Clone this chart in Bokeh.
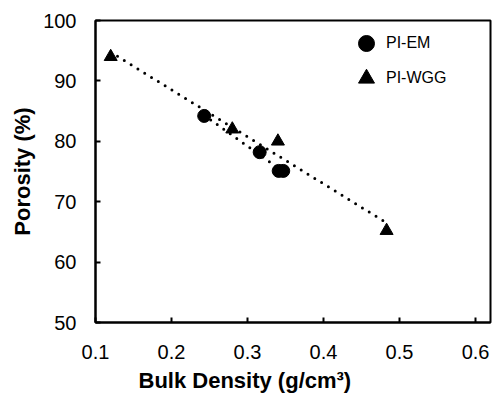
import numpy as np
from bokeh.plotting import figure
from bokeh.models import (FixedTicker, Legend, LegendItem, Title, Range1d, CustomJSTickFormatter)
from bokeh.embed import file_html
from bokeh.resources import INLINE

# ---- data ----
em_density = [0.243, 0.316, 0.341, 0.347]
em_porosity = [84.2, 78.2, 75.1, 75.1]
wgg_density = [0.120, 0.280, 0.340, 0.483]
wgg_porosity = [94.0, 82.0, 80.0, 65.2]
x_ticks = [0.1, 0.2, 0.3, 0.4, 0.5, 0.6]
y_ticks = [50, 60, 70, 80, 90, 100]
x_label = "Bulk Density (g/cm\u00b3)"
y_label = "Porosity (%)"
series_names = ["PI-EM", "PI-WGG"]

FONT = "Liberation Sans"

p = figure(width=492, height=398, output_backend="svg", toolbar_location=None,
           x_range=Range1d(0.1, 0.6197), y_range=Range1d(50, 100),
           min_border_left=95, min_border_top=20, min_border_right=2,
           min_border_bottom=76)
p.grid.visible = False
p.outline_line_color = "black"
p.outline_line_width = 2
p.background_fill_color = "white"
p.border_fill_color = "white"

for ax in (p.xaxis[0], p.yaxis[0]):
    ax.axis_line_width = 2
    ax.axis_line_color = "black"
    ax.major_tick_in = 5
    ax.major_tick_out = 0
    ax.major_tick_line_width = 2
    ax.major_tick_line_color = "black"
    ax.minor_tick_line_color = None
    ax.major_label_text_font = FONT
    ax.major_label_text_font_size = "20px"
    ax.major_label_text_color = "black"

p.xaxis.ticker = FixedTicker(ticks=x_ticks)
p.yaxis.ticker = FixedTicker(ticks=y_ticks)
p.xaxis.formatter = CustomJSTickFormatter(code="return tick.toFixed(1);")
p.xaxis.major_label_standoff = 22
p.yaxis.major_label_standoff = 19

p.yaxis.axis_label = y_label
p.yaxis.axis_label_text_font = FONT
p.yaxis.axis_label_text_font_style = "bold"
p.yaxis.axis_label_text_font_size = "22px"
p.yaxis.axis_label_standoff = 5
p.yaxis.axis_label_text_color = "black"

# x axis label (shifted to the left like the reference)
p.add_layout(Title(text=x_label, align="left", offset=43, standoff=8,
                   text_font=FONT, text_font_style="bold", text_font_size="22px",
                   text_color="black"), "below")

# trendlines (linear fits)
for xs, ys in ((em_density, em_porosity), (wgg_density, wgg_porosity)):
    k, b = np.polyfit(xs, ys, 1)
    xx = np.array([min(xs), max(xs)])
    p.line(xx, k * xx + b, line_color="black", line_width=3, line_dash="0 8",
           line_cap="round")

r_em = p.scatter(em_density, em_porosity, marker="circle", size=13,
                 fill_color="black", line_color="black")
r_wgg = p.scatter(wgg_density, wgg_porosity, marker="triangle", size=13,
                  fill_color="black", line_color="black")

for rend, name, loc in ((r_em, series_names[0], (251, 259)),
                        (r_wgg, series_names[1], (251, 224))):
    lg = Legend(items=[LegendItem(label=name, renderers=[rend])],
                location=loc, glyph_width=40, glyph_height=40,
                padding=0, margin=0, label_standoff=0,
                label_text_font=FONT, label_text_font_size="16px",
                label_text_color="black",
                border_line_color=None, background_fill_alpha=0)
    p.add_layout(lg, "center")

open("out.html", "w").write(file_html(p, INLINE))
